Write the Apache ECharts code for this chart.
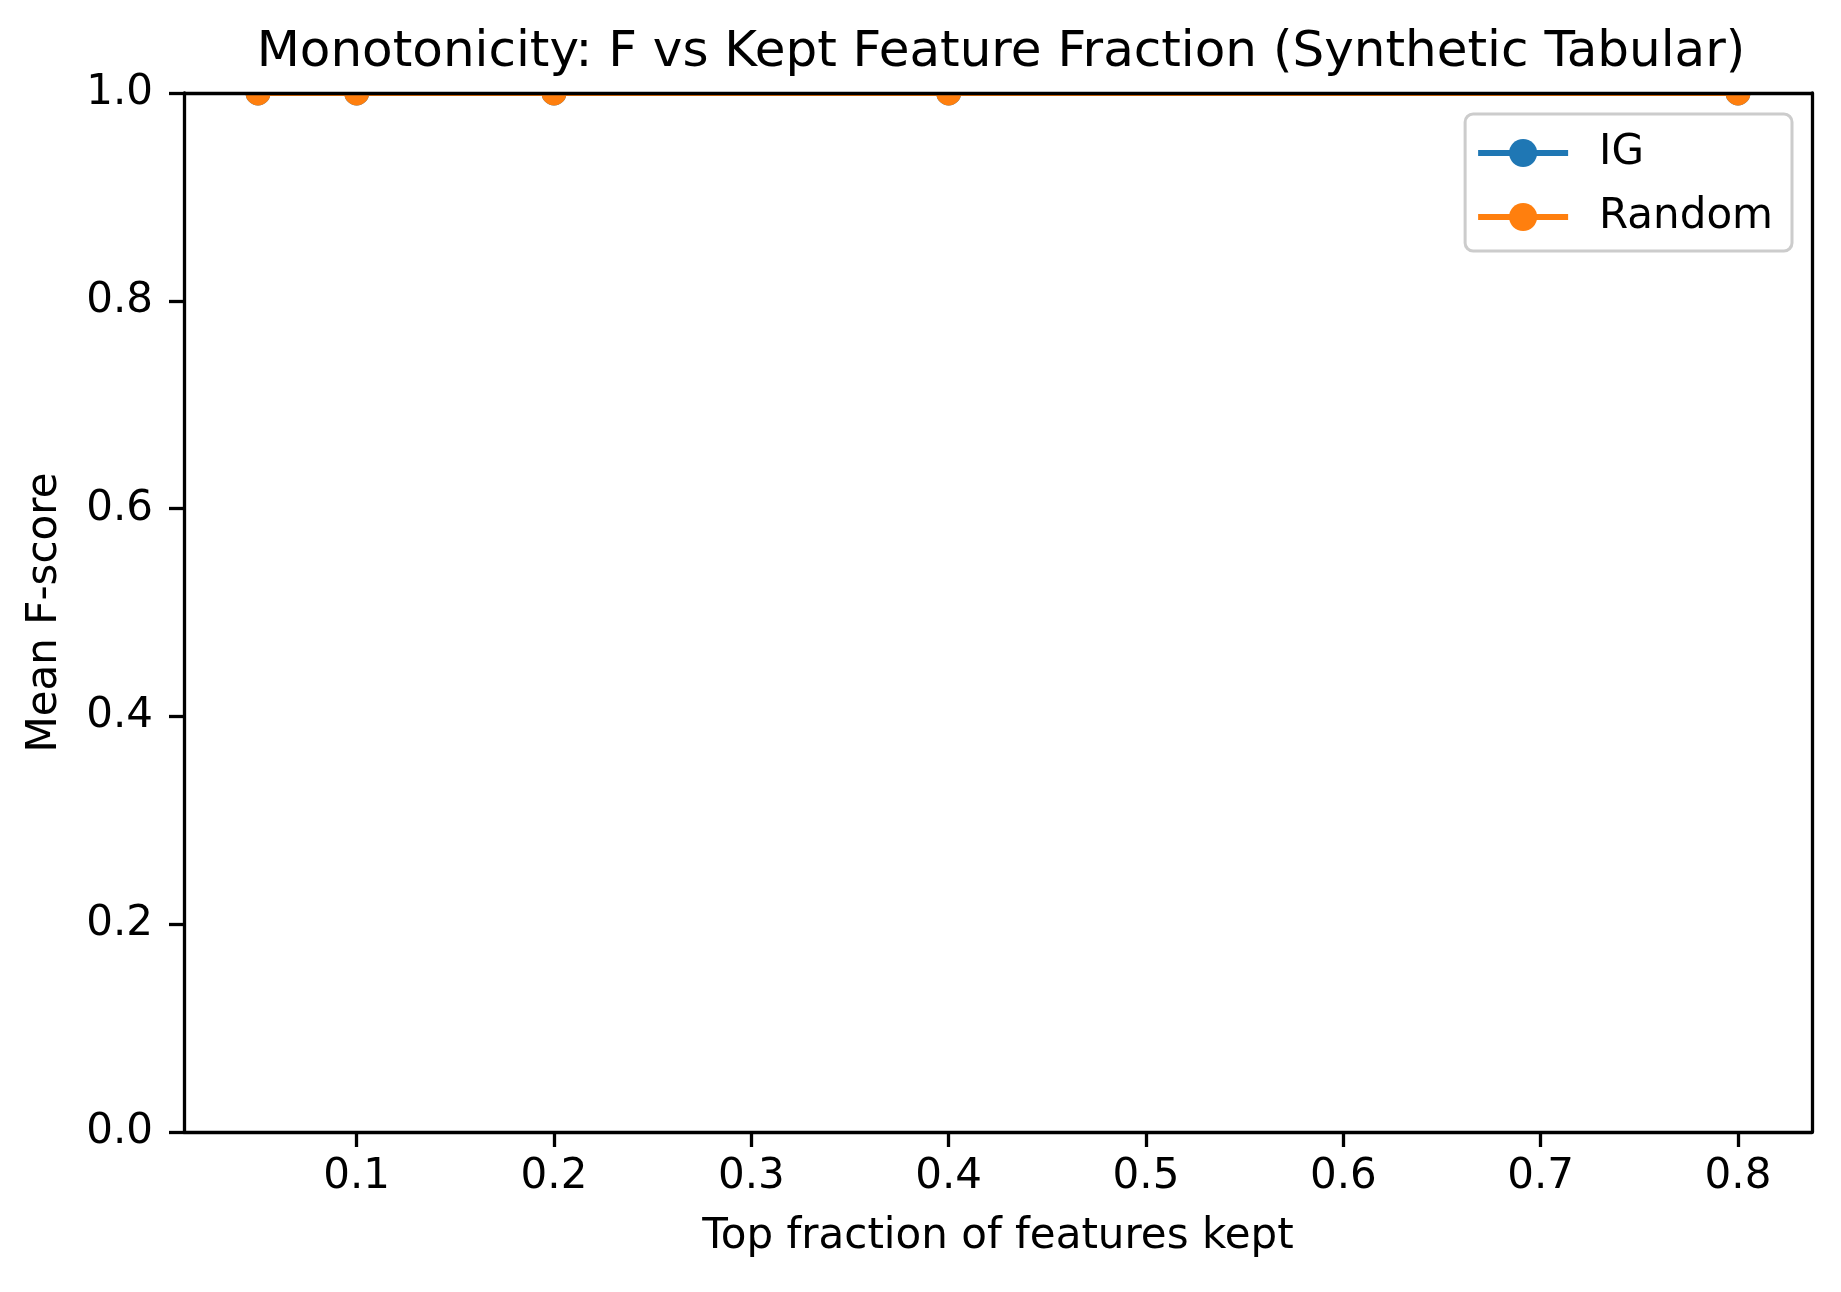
<!DOCTYPE html>
<html>
<head>
<meta charset="utf-8">
<script src="https://cdn.jsdelivr.net/npm/echarts@6/dist/echarts.min.js"></script>
<style>
  html, body { margin: 0; padding: 0; background: #fff; }
  #chart { width: 1841px; height: 1292px; }
</style>
</head>
<body>
<div id="chart"></div>
<script>
// 数据
var fractions = [0.05, 0.1, 0.2, 0.4, 0.8];
var igScores = [1.0, 1.0, 1.0, 1.0, 1.0];
var randomScores = [1.0, 1.0, 1.0, 1.0, 1.0];
var xTicks = [0.1, 0.2, 0.3, 0.4, 0.5, 0.6, 0.7, 0.8];
var xMin = 0.0125, xMax = 0.8375;

var font = 'DejaVu Sans';

function pairs(xs, ys) {
  return xs.map(function (x, i) { return [x, ys[i]]; });
}

var chart = echarts.init(document.getElementById('chart'));

var option = {
  animation: false,
  backgroundColor: '#fff',
  textStyle: { fontFamily: font, color: '#000' },
  title: {
    text: 'Monotonicity: F vs Kept Feature Fraction (Synthetic Tabular)',
    left: 996,
    textAlign: 'center',
    top: 23,
    z: 10,
    textStyle: { fontFamily: font, fontSize: 50, fontWeight: 'normal', color: '#000' }
  },
  grid: { left: 184, right: 29, top: 93, bottom: 160 },
  legend: {
    orient: 'vertical',
    right: 49,
    top: 114,
    backgroundColor: '#fff',
    borderColor: '#cccccc',
    borderWidth: 3,
    borderRadius: 8,
    padding: [18, 19, 13, 10],
    itemWidth: 90,
    itemHeight: 35,
    itemGap: 22,
    lineStyle: { width: 6 },
    textStyle: { fontFamily: font, fontSize: 42, color: '#000', padding: [0, 0, 0, 26] },
    data: ['IG', 'Random']
  },
  // 白色遮罩：让顶边上的点只露出下半个（和原图一样被裁剪）
  graphic: [{
    type: 'rect',
    z: 5,
    shape: { x: 0, y: 0, width: 1841, height: 93 },
    style: { fill: '#fff' },
    silent: true
  }],
  xAxis: [{
    type: 'value',
    min: xMin,
    max: xMax,
    position: 'bottom',
    name: 'Top fraction of features kept',
    nameLocation: 'middle',
    nameGap: 84,
    nameTextStyle: { fontFamily: font, fontSize: 42, color: '#000' },
    splitLine: { show: false },
    axisLine: { onZero: false, lineStyle: { color: '#000', width: 3.3 } },
    axisTick: { show: true, length: 15, lineStyle: { color: '#000', width: 3.3 }, customValues: xTicks },
    axisLabel: {
      fontFamily: font, fontSize: 42, color: '#000', margin: 24,
      customValues: xTicks,
      formatter: function (v) { return v.toFixed(1); }
    },
    z: 10
  }, {
    type: 'value',
    min: xMin,
    max: xMax,
    position: 'top',
    splitLine: { show: false },
    axisLine: { onZero: false, lineStyle: { color: '#000', width: 3.3 } },
    axisTick: { show: false },
    axisLabel: { show: false },
    z: 10
  }],
  yAxis: [{
    type: 'value',
    min: 0,
    max: 1,
    interval: 0.2,
    position: 'left',
    name: 'Mean F-score',
    nameLocation: 'middle',
    nameGap: 118,
    nameTextStyle: { fontFamily: font, fontSize: 42, color: '#000' },
    splitLine: { show: false },
    axisLine: { show: true, onZero: false, lineStyle: { color: '#000', width: 3.3 } },
    axisTick: { show: true, length: 15, lineStyle: { color: '#000', width: 3.3 } },
    axisLabel: {
      fontFamily: font, fontSize: 42, color: '#000', margin: 31,
      formatter: function (v) { return v.toFixed(1); }
    },
    z: 10
  }, {
    type: 'value',
    min: 0,
    max: 1,
    position: 'right',
    splitLine: { show: false },
    axisLine: { show: true, onZero: false, lineStyle: { color: '#000', width: 3.3 } },
    axisTick: { show: false },
    axisLabel: { show: false },
    z: 10
  }],
  series: [{
    name: 'IG',
    type: 'line',
    data: pairs(fractions, igScores),
    symbol: 'circle',
    symbolSize: 25,
    clip: false,
    lineStyle: { color: '#1f77b4', width: 6 },
    itemStyle: { color: '#1f77b4' },
    z: 2
  }, {
    name: 'Random',
    type: 'line',
    data: pairs(fractions, randomScores),
    symbol: 'circle',
    symbolSize: 25,
    clip: false,
    lineStyle: { color: '#ff7f0e', width: 6 },
    itemStyle: { color: '#ff7f0e' },
    z: 3
  }]
};

chart.setOption(option);
</script>
</body>
</html>
